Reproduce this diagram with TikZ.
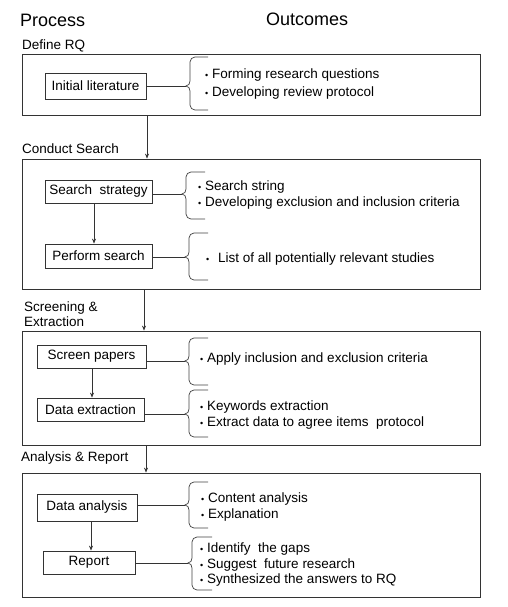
\documentclass[tikz,border=0pt]{standalone}
\usepackage{fontspec}
\setmainfont{Liberation Sans}
\usetikzlibrary{arrows.meta}
\newcommand\mybul{\llap{{\fontsize{9}{9}\selectfont •}\hspace{4pt}}}
\newcommand\obrace[5]{% xt, top, tipy, bot, xe
  \draw[brace] (#5,#2) -- (#1+9,#2) to[out=180,in=90] (#1+4,#2+5) -- (#1+4,#3-5)
    to[out=-90,in=0] (#1,#3) to[out=0,in=90] (#1+4,#3+5) -- (#1+4,#4-5)
    to[out=-90,in=180] (#1+9,#4) -- (#5,#4);}
\begin{document}
\begin{tikzpicture}[x=1pt,y=-1pt,
  every node/.style={inner sep=0pt, font=\fontsize{13.5}{16}\selectfont},
  head/.style={font=\fontsize{18}{20}\selectfont, anchor=base west},
  lab/.style={anchor=base west},
  big/.style={draw=black!80, line width=0.8pt},
  pbox/.style={draw=black!80, line width=0.8pt, minimum width=#1, minimum height=23pt},
  conn/.style={black!80, line width=0.7pt},
  arr/.style={black!80, line width=0.7pt, -{Stealth[length=5pt,width=4pt]}},
  brace/.style={black!75, line width=0.7pt},
  itm/.style={anchor=base west}]
\useasboundingbox (0,0) rectangle (508,607);

% headers
\node[head] (hp) at (20,27) {Process};
\node[head] (ho) at (266,26) {Outcomes};

% section labels
\node[lab] (l1) at (22,50) {Define RQ};
\node[lab] (l2) at (22,153) {Conduct Search};
\node[lab] (l3a) at (24,311) {Screening \&};
\node[lab] (l3b) at (24,326) {Extraction};
\node[lab] (l4) at (21,461) {Analysis \& Report};

% big boxes
\node[big, minimum width=458pt, minimum height=61pt] (B1) at (251,84.5) {};
\node[big, minimum width=458pt, minimum height=130pt] (B2) at (251,224) {};
\node[big, minimum width=458pt, minimum height=114pt] (B3) at (251,388) {};
\node[big, minimum width=458pt, minimum height=124pt] (B4) at (251,535) {};

% process boxes
\node[pbox=101pt, minimum height=26pt] (lit) at (95.5,86) {Initial literature};
\node[pbox=107pt] (ss) at (98.5,191.5) {Search~ strategy};
\node[pbox=107pt, minimum height=24pt] (ps) at (98.5,256) {Perform search};
\node[pbox=109pt] (sp) at (91.5,356.5) {Screen papers};
\node[pbox=107pt] (de) at (90.5,409.5) {Data extraction};
\node[pbox=100pt, minimum height=27pt] (da) at (87,507.5) {Data analysis};
\node[pbox=92pt] (rp) at (89,562.5) {Report};

% arrows between big boxes
\coordinate (x1) at (147,0);
\coordinate (x2) at (144,0);
\coordinate (x3) at (146,0);
\draw[arr] (B1.south -| x1) -- (B2.north -| x1);
\draw[arr] (B2.south -| x2) -- (B3.north -| x2);
\draw[arr] (B3.south -| x3) -- (B4.north -| x3);

% arrows inside
\draw[arr] (ss.south -| 94,0) -- (ps.north -| 94,0);
\draw[arr] (sp.south -| 92,0) -- (de.north -| 92,0);
\draw[arr] (da.south -| 91,0) -- (rp.north -| 91,0);

% braces
\obrace{186}{57}{86}{110}{208}
\obrace{182}{172}{194}{219}{205}
\obrace{185}{233}{257}{280}{208}
\obrace{185}{338}{361}{385}{208}
\obrace{185}{390}{414}{437}{208}
\obrace{185}{482}{505}{528}{208}
\obrace{188}{537}{563}{590}{212}
\coordinate (b1) at (186,86);
\coordinate (b2) at (182,194);
\coordinate (b3) at (185,257);
\coordinate (b4) at (185,361);
\coordinate (b5) at (185,414);
\coordinate (b6) at (185,505);
\coordinate (b7) at (188,563);
\draw[conn] (lit.east |- b1) -- (b1);
\draw[conn] (ss.east |- b2) -- (b2);
\draw[conn] (ps.east |- b3) -- (b3);
\draw[conn] (sp.east |- b4) -- (b4);
\draw[conn] (de.east |- b5) -- (b5);
\draw[conn] (da.east |- b6) -- (b6);
\draw[conn] (rp.east |- b7) -- (b7);

% outcome items
\node[itm] (o1a) at (212,79) {\mybul Forming research questions};
\node[itm] (o1b) at (212,96) {\mybul Developing review protocol};
\node[itm] (o2a) at (205,190) {\mybul Search string};
\node[itm] (o2b) at (205,206) {\mybul Developing exclusion and inclusion criteria};
\node[itm] (o3a) at (213,262) {\mybul\hspace{5pt}List of all potentially relevant studies};
\node[itm] (o4a) at (207,362) {\mybul Apply inclusion and exclusion criteria};
\node[itm] (o5a) at (207,410) {\mybul Keywords extraction};
\node[itm] (o5b) at (207,426) {\mybul Extract data to agree items~ protocol};
\node[itm] (o6a) at (208,502) {\mybul Content analysis};
\node[itm] (o6b) at (208,518) {\mybul Explanation};
\node[itm] (o7a) at (207,552) {\mybul Identify~ the gaps};
\node[itm] (o7b) at (207,568) {\mybul Suggest~ future research};
\node[itm] (o7c) at (207,583) {\mybul Synthesized the answers to RQ};
\end{tikzpicture}
\end{document}
